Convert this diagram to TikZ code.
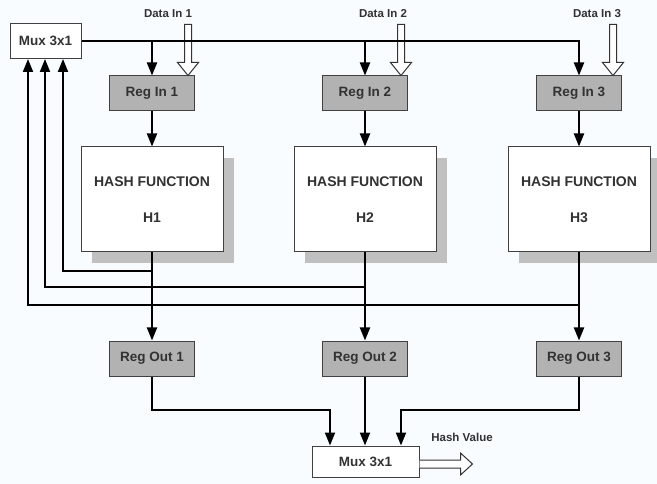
\documentclass[tikz,border=0pt]{standalone}
\usepackage{fontspec}
\setmainfont{Liberation Sans}
\usetikzlibrary{arrows.meta,shadows}
\definecolor{bg}{RGB}{248,252,254}
\definecolor{regfill}{RGB}{178,178,178}
\definecolor{shade}{RGB}{192,192,192}
\definecolor{txt}{RGB}{50,50,50}
\tikzset{
  box/.style={draw=black!75, line width=1pt, fill=white, text=txt, inner sep=0pt,
    font=\bfseries\fontsize{13.5}{16}\selectfont},
  reg/.style={box, fill=regfill, minimum width=85pt, minimum height=35pt},
  hash/.style={box, minimum width=142pt, minimum height=105pt, align=center,
    font=\bfseries\fontsize{14}{16}\selectfont,
    drop shadow={shadow xshift=11pt, shadow yshift=-11pt, fill=shade, opacity=1}},
  wire/.style={line width=2pt, draw=black},
  arr/.style={wire, -{Triangle[width=10pt,length=13pt]}},
  hollow/.style={draw=black!80, line width=1pt, fill=white, line join=miter},
  lbl/.style={text=txt, inner sep=0pt, font=\bfseries\fontsize{11.5}{13}\selectfont},
  pics/hollowdown/.style={code={
    \draw[hollow] (-3.5,-51) -- (3.5,-51) -- (3.5,-13) -- (10.5,-13) -- (0,0)
      -- (-10.5,-13) -- (-3.5,-13) -- cycle;}}
}
\begin{document}
\begin{tikzpicture}[x=1pt,y=-1pt]
\fill[bg] (0,0) rectangle (657,484);
\useasboundingbox (0,0) rectangle (657,484);

% top mux
\node[box, minimum width=71pt, minimum height=35pt] (mux1) at (45.5,41) {Mux 3x1};

% input registers
\node[reg] (rin1) at (152,93.5) {Reg In 1};
\node[reg] (rin2) at (365,93.5) {Reg In 2};
\node[reg] (rin3) at (579,93.5) {Reg In 3};

% hash functions
\node[hash] (h1) at (152,199.5) {HASH FUNCTION\\[20pt]H1};
\node[hash] (h2) at (365,199.5) {HASH FUNCTION\\[20pt]H2};
\node[hash] (h3) at (579,199.5) {HASH FUNCTION\\[20pt]H3};

% output registers
\node[reg] (ro1) at (152,358.5) {Reg Out 1};
\node[reg] (ro2) at (365,358.5) {Reg Out 2};
\node[reg] (ro3) at (579,358.5) {Reg Out 3};

% bottom mux
\node[box, minimum width=107pt, minimum height=31pt] (mux2) at (365.5,461.5) {Mux 3x1};

% labels
\node[lbl] (d1) at (168,14) {Data In 1};
\node[lbl] (d2) at (383,14) {Data In 2};
\node[lbl] (d3) at (597,14) {Data In 3};
\node[lbl] (hv) at (462,437) {Hash Value};

% data in hollow arrows
\pic at (rin1.north -| 188,0) {hollowdown};
\pic at (rin2.north -| 401,0) {hollowdown};
\pic at (rin3.north -| 613,0) {hollowdown};

% hash value hollow arrow
\coordinate (hvs) at (mux2.east |- 0,464);
\draw[hollow] ([yshift=-4pt]hvs) -- ([xshift=41pt,yshift=-4pt]hvs) -- ([xshift=41pt,yshift=-11pt]hvs)
  -- ([xshift=53pt]hvs) -- ([xshift=41pt,yshift=11pt]hvs) -- ([xshift=41pt,yshift=4pt]hvs)
  -- ([yshift=4pt]hvs);

% top bus
\coordinate (j1) at (rin1.north |- mux1.east);
\coordinate (j2) at (rin2.north |- mux1.east);
\draw[arr] (mux1.east) -| (rin3.north);
\draw[arr] (j1) -- (rin1.north);
\draw[arr] (j2) -- (rin2.north);

% reg in -> hash
\draw[arr] (rin1) -- (h1);
\draw[arr] (rin2) -- (h2);
\draw[arr] (rin3) -- (h3);

% hash -> reg out
\draw[arr] (h1) -- (ro1);
\draw[arr] (h2) -- (ro2);
\draw[arr] (h3) -- (ro3);

% feedback lines
\coordinate (k1) at (h1.south |- 0,271);
\coordinate (k2) at (h2.south |- 0,287);
\coordinate (k3) at (h3.south |- 0,305);
\coordinate (f1) at (63,271);
\coordinate (f2) at (45,287);
\coordinate (f3) at (28,305);
\draw[arr] (k1) -- (f1) -- (f1 |- mux1.south);
\draw[arr] (k2) -- (f2) -- (f2 |- mux1.south);
\draw[arr] (k3) -- (f3) -- (f3 |- mux1.south);

% reg out -> bottom mux
\coordinate (b1) at (330,410);
\coordinate (b3) at (401,410);
\draw[arr] (ro1.south) |- (b1) -- (b1 |- mux2.north);
\draw[arr] (ro2.south) -- (ro2.south |- mux2.north);
\draw[arr] (ro3.south) |- (b3) -- (b3 |- mux2.north);
\end{tikzpicture}
\end{document}
